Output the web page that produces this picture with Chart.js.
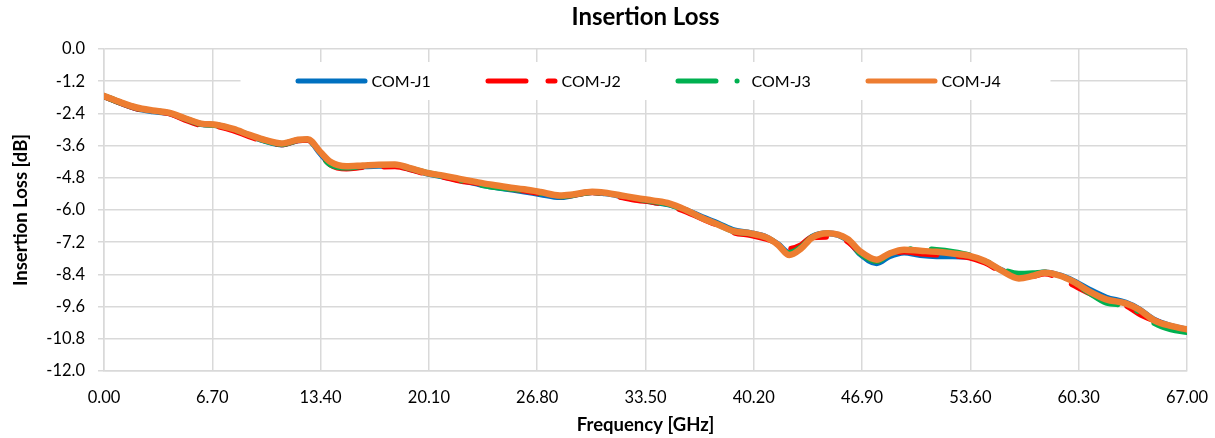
<!DOCTYPE html>
<html>
<head>
<meta charset="utf-8">
<title>Insertion Loss</title>
<script src="https://cdn.jsdelivr.net/npm/chart.js@4.4.1/dist/chart.umd.min.js"></script>
<style>
    html, body { margin: 0; padding: 0; background: #fff; }
    #wrap { width: 1215px; height: 438px; }
</style>
</head>
<body>
<div id="wrap"><canvas id="lossChart"></canvas></div>
<script>
// Frequency points [GHz] shared by all four traces
const freqGHz = [0, 1, 2, 3, 4, 5, 6, 7, 8, 9,
    10, 11, 12, 12.6, 13.4, 14, 15, 16, 17, 18,
    19, 20, 21, 22, 23, 24, 25, 26, 27, 28.2,
    29, 30.2, 31, 32, 33, 34, 35, 36, 37, 38,
    39, 40, 41, 41.7, 42.4, 43.1, 43.8, 44.8, 46, 46.8,
    47.8, 48.6, 49.5, 50.5, 51.5, 52.5, 53.5, 54.5, 55.5, 56.6,
    57.5, 58.2, 59.2, 60, 61, 62, 63.2, 64, 65, 66,
    67];

// Insertion loss [dB]
const comJ1 = [-1.76, -2.00, -2.21, -2.32, -2.39, -2.60, -2.80, -2.84, -3.00, -3.22,
    -3.43, -3.56, -3.40, -3.38, -3.90, -4.28, -4.41, -4.37, -4.35, -4.33,
    -4.48, -4.64, -4.75, -4.88, -5.01, -5.13, -5.22, -5.31, -5.41, -5.52,
    -5.45, -5.33, -5.38, -5.48, -5.59, -5.70, -5.80, -6.00, -6.26, -6.50,
    -6.76, -6.86, -7.02, -7.28, -7.60, -7.40, -7.00, -6.87, -7.12, -7.65,
    -7.98, -7.72, -7.58, -7.68, -7.72, -7.72, -7.74, -7.92, -8.24, -8.48,
    -8.40, -8.33, -8.45, -8.65, -8.98, -9.26, -9.45, -9.68, -10.10, -10.32,
    -10.46];

const comJ2 = [-1.76, -2.00, -2.21, -2.31, -2.39, -2.63, -2.83, -2.88, -3.03, -3.26,
    -3.44, -3.55, -3.40, -3.38, -3.92, -4.30, -4.45, -4.40, -4.38, -4.37,
    -4.49, -4.66, -4.76, -4.90, -4.99, -5.10, -5.19, -5.27, -5.37, -5.49,
    -5.44, -5.34, -5.40, -5.52, -5.63, -5.70, -5.86, -6.05, -6.32, -6.57,
    -6.84, -6.93, -7.08, -7.22, -7.45, -7.32, -7.02, -7.00, -7.17, -7.60,
    -7.90, -7.66, -7.55, -7.62, -7.66, -7.70, -7.76, -7.96, -8.28, -8.50,
    -8.45, -8.37, -8.55, -8.80, -9.10, -9.35, -9.55, -9.85, -10.12, -10.35,
    -10.50];

const comJ3 = [-1.75, -1.99, -2.19, -2.30, -2.38, -2.59, -2.79, -2.84, -2.99, -3.21,
    -3.42, -3.54, -3.39, -3.37, -3.92, -4.30, -4.42, -4.36, -4.33, -4.31,
    -4.46, -4.62, -4.74, -4.88, -5.03, -5.13, -5.20, -5.27, -5.37, -5.49,
    -5.44, -5.33, -5.37, -5.47, -5.58, -5.68, -5.79, -6.02, -6.30, -6.54,
    -6.80, -6.88, -7.04, -7.28, -7.60, -7.40, -7.02, -6.88, -7.10, -7.62,
    -7.90, -7.63, -7.46, -7.46, -7.49, -7.56, -7.68, -7.90, -8.20, -8.38,
    -8.36, -8.33, -8.46, -8.70, -9.10, -9.45, -9.55, -9.78, -10.22, -10.45,
    -10.55];

const comJ4 = [-1.75, -1.98, -2.18, -2.29, -2.37, -2.58, -2.78, -2.83, -2.98, -3.20,
    -3.40, -3.52, -3.38, -3.36, -3.85, -4.20, -4.37, -4.34, -4.31, -4.30,
    -4.45, -4.62, -4.72, -4.84, -4.95, -5.06, -5.15, -5.23, -5.33, -5.46,
    -5.42, -5.32, -5.36, -5.46, -5.56, -5.65, -5.76, -6.00, -6.30, -6.55,
    -6.80, -6.87, -7.03, -7.30, -7.68, -7.45, -7.03, -6.87, -7.08, -7.55,
    -7.85, -7.62, -7.48, -7.52, -7.56, -7.62, -7.70, -7.90, -8.25, -8.55,
    -8.45, -8.34, -8.46, -8.68, -9.05, -9.33, -9.48, -9.70, -10.12, -10.32,
    -10.45];

const seriesNames = ['COM-J1', 'COM-J2', 'COM-J3', 'COM-J4'];
const seriesValues = [comJ1, comJ2, comJ3, comJ4];

// Axis tick labels
const xTickValues = [0, 6.7, 13.4, 20.1, 26.8, 33.5, 40.2, 46.9, 53.6, 60.3, 67];
const yTickValues = [0, -1.2, -2.4, -3.6, -4.8, -6.0, -7.2, -8.4, -9.6, -10.8, -12.0];

// Styles kept apart from the data
const seriesColors = ['#0070C0', '#FF0000', '#00B050', '#ED7D31'];
const seriesDashes = [[], [38, 22], [38, 21, 0.1, 21], []];
const gridColor = '#d9d9d9';
const fontName = 'Lato, "Noto Sans", sans-serif';

Chart.defaults.font.family = fontName;
Chart.defaults.color = '#000';

// Legend drawn inside the plot on a white box, like the original
const insideLegend = {
    id: 'insideLegend',
    beforeDatasetsDraw(chart) {
        const ctx = chart.ctx;
        const area = chart.chartArea;
        const mid = (area.left + area.right) / 2;
        const boxW = 810, boxH = 38;
        const boxX = mid - boxW / 2;
        const boxY = area.top + 13;
        const cy = boxY + boxH / 2;

        ctx.save();
        ctx.fillStyle = '#fff';
        ctx.fillRect(boxX, boxY, boxW, boxH);

        chart.data.datasets.forEach((ds, i) => {
            const sx = boxX + 55 + i * 190;
            ctx.beginPath();
            ctx.lineWidth = 5;
            ctx.lineCap = 'round';
            ctx.strokeStyle = ds.borderColor;
            ctx.setLineDash(ds.borderDash || []);
            ctx.moveTo(sx + 2.5, cy);
            ctx.lineTo(sx + 69.5, cy);
            ctx.stroke();

            ctx.setLineDash([]);
            ctx.fillStyle = '#000';
            ctx.font = '16px ' + fontName;
            ctx.textBaseline = 'middle';
            ctx.textAlign = 'left';
            ctx.fillText(ds.label, sx + 76, cy + 1);
        });
        ctx.restore();
    }
};

const datasets = seriesNames.map((name, i) => ({
    label: name,
    data: freqGHz.map((f, k) => ({ x: f, y: seriesValues[i][k] })),
    borderColor: seriesColors[i],
    backgroundColor: seriesColors[i],
    borderWidth: i === 3 ? 6.5 : 6,
    borderDash: seriesDashes[i],
    borderCapStyle: 'round',
    borderJoinStyle: 'round',
    pointRadius: 0,
    cubicInterpolationMode: 'monotone',
    fill: false,
    order: 4 - i // COM-J4 on top
}));

new Chart(document.getElementById('lossChart').getContext('2d'), {
    type: 'line',
    data: { datasets: datasets },
    plugins: [insideLegend],
    options: {
        responsive: true,
        maintainAspectRatio: false,
        animation: false,
        layout: { padding: { left: 0, right: 28, top: 0, bottom: 0 } },
        plugins: {
            legend: { display: false },
            tooltip: { enabled: false },
            title: {
                display: true,
                text: 'Insertion Loss',
                fullSize: false,
                font: { size: 24, weight: 'bold' },
                padding: { top: 3, bottom: 17.2 }
            }
        },
        scales: {
            x: {
                type: 'linear',
                min: 0,
                max: 67,
                afterBuildTicks: scale => {
                    scale.ticks = xTickValues.map(v => ({ value: v }));
                },
                afterFit: scale => {
                    scale.height = 67;
                    scale.paddingLeft = 0;
                    scale.paddingRight = 0;
                },
                ticks: {
                    font: { size: 16.5 },
                    padding: 17,
                    maxRotation: 0,
                    callback: v => Number(v).toFixed(2)
                },
                grid: { color: gridColor, lineWidth: 1.5, drawTicks: false },
                border: { color: gridColor, width: 1.5 },
                title: {
                    display: true,
                    text: 'Frequency [GHz]',
                    font: { size: 18.5, weight: 'bold' },
                    padding: { top: 0, bottom: 1.6 }
                }
            },
            y: {
                type: 'linear',
                min: -12,
                max: 0,
                afterBuildTicks: scale => {
                    scale.ticks = yTickValues.map(v => ({ value: v }));
                },
                afterFit: scale => {
                    scale.width = 104;
                },
                ticks: {
                    font: { size: 16.5 },
                    padding: 13,
                    callback: v => Number(v).toFixed(1)
                },
                grid: { color: gridColor, lineWidth: 1.5, tickLength: 6 },
                border: { color: gridColor, width: 1.5 },
                title: {
                    display: true,
                    text: 'Insertion Loss [dB]',
                    font: { size: 18.5, weight: 'bold' },
                    padding: { top: 9.6, bottom: 0 }
                }
            }
        }
    }
});
</script>
</body>
</html>
